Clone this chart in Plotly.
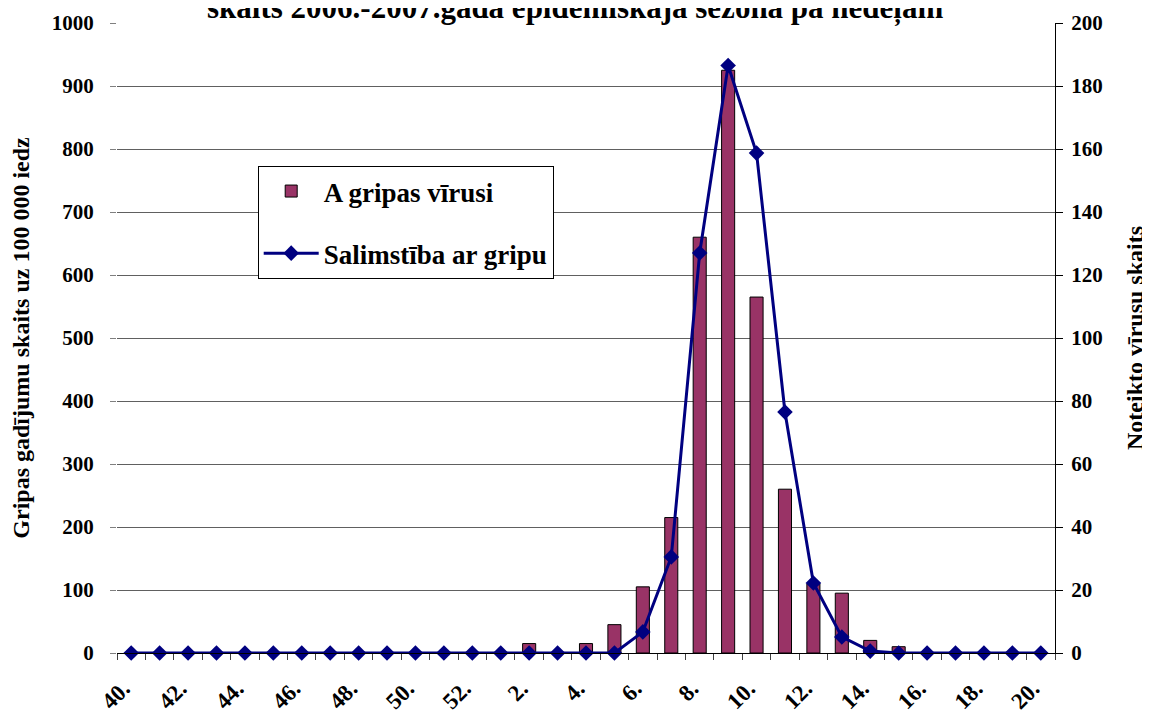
import plotly.graph_objects as go

weeks = [f"{w}." for w in list(range(40, 53)) + list(range(1, 21))]
tick_text = [w if i % 2 == 0 else "" for i, w in enumerate(weeks)]

# A gripas vīrusi (primary axis units)
virus_a = [0]*13 + [0, 15, 0, 15, 45, 105, 215, 660, 925, 565, 260, 110, 95, 20, 10, 0, 0, 0, 0, 0]
# Salimstība ar gripu (secondary axis units)
morbidity = [0]*13 + [0, 0, 0, 0, 0, 6.7, 30.5, 127, 186.5, 158.7, 76.5, 22.2, 5.1, 0.6, 0, 0, 0, 0, 0, 0]

FONT = "Liberation Serif"

fig = go.Figure()
fig.add_trace(go.Bar(
    x=weeks, y=virus_a, name="A gripas vīrusi",
    marker=dict(color="#993366", line=dict(color="black", width=1)),
    legendgroup="a", yaxis="y",
))
fig.add_trace(go.Scatter(
    x=weeks, y=morbidity, name="Salimstība ar gripu", mode="lines+markers",
    line=dict(color="#000080", width=3),
    marker=dict(symbol="diamond", size=12, color="#000080"),
    cliponaxis=False, legendgroup="b", yaxis="y2",
))

fig.update_layout(
    width=1142, height=709,
    margin=dict(l=109, r=95, t=15, b=64),
    paper_bgcolor="white", plot_bgcolor="white",
    font=dict(family=FONT, size=21, color="black", weight="bold"),
    bargap=0.54,
    showlegend=True,
    legend=dict(
        x=0.150, y=0.773, xanchor="left", yanchor="top",
        bgcolor="white", bordercolor="black", borderwidth=1,
        font=dict(family=FONT, size=27, weight="bold"),
        tracegroupgap=24, traceorder="grouped",
        itemwidth=55,
    ),
    xaxis=dict(
        type="category", categoryorder="array", categoryarray=weeks,
        tickvals=weeks, ticktext=tick_text, tickangle=-45,
        tickson="boundaries", ticks="outside", ticklen=6, tickcolor="#404040",
        showline=True, linecolor="black", linewidth=1,
        showgrid=False, range=[-0.5, 32.5], automargin=False,
        tickfont=dict(size=23), ticklabelstandoff=12, ticklabelshift=-8,
    ),
    yaxis=dict(
        range=[0, 1000], dtick=100, tick0=0,
        showgrid=True, gridcolor="#606060", gridwidth=1,
        ticks="outside", ticklen=6, tickcolor="#808080",
        showline=False, zeroline=False, automargin=False,
        ticklabelstandoff=12,
        title=dict(text="Gripas gadījumu skaits uz 100 000 iedz", font=dict(size=24), standoff=20),
    ),
    yaxis2=dict(
        range=[0, 200], dtick=20, tick0=0, overlaying="y", side="right",
        showgrid=False, ticks="outside", ticklen=7, tickcolor="black",
        showline=True, linecolor="black", linewidth=1, zeroline=False, automargin=False,
        ticklabelstandoff=4,
        title=dict(text="Noteikto vīrusu skaits", font=dict(size=24), standoff=24),
    ),
)

fig.add_annotation(
    text="skaits 2006.-2007.gada epidēmiskajā sezonā pa nedēļām",
    xref="paper", yref="paper", x=0.488, y=645 / 630,
    xanchor="center", yanchor="middle", showarrow=False,
    font=dict(family=FONT, size=31, weight="bold"),
)

fig.write_html("out.html")
